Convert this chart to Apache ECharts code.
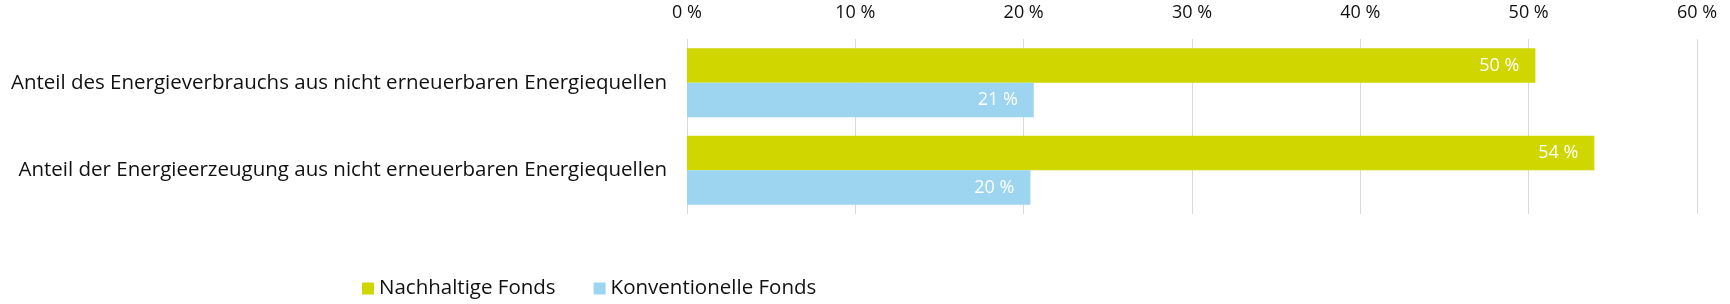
<!DOCTYPE html>
<html>
<head>
<meta charset="utf-8">
<script src="https://cdn.jsdelivr.net/npm/echarts@6/dist/echarts.min.js"></script>
<style>
html,body{margin:0;padding:0;background:#fff;}
#c{width:1730px;height:304px;}
</style>
</head>
<body>
<div id="c"></div>
<script>
var categories = [
  "Anteil des Energieverbrauchs aus nicht erneuerbaren Energiequellen",
  "Anteil der Energieerzeugung aus nicht erneuerbaren Energiequellen"
];
var seriesNames = ["Nachhaltige Fonds", "Konventionelle Fonds"];
var nachhaltige = [50.4, 53.9];
var konventionelle = [20.6, 20.4];
var xTicks = [0, 10, 20, 30, 40, 50, 60];

var FONT = "Open Sans";
var chart = echarts.init(document.getElementById('c'), null, {renderer: 'canvas'});
function pct(v){ return Math.round(v) + " %"; }
var labelCfg = {
  show: true, position: 'insideRight', distance: 16, color: '#ffffff',
  fontFamily: FONT, fontSize: 18,
  formatter: function(p){ return pct(p.value); }
};
chart.setOption({
  animation: false,
  backgroundColor: '#ffffff',
  grid: {left: 687, right: 33, top: 39, bottom: 90, containLabel: false},
  legend: {
    data: seriesNames, left: 357, top: 273, itemWidth: 12, itemHeight: 12, itemGap: 38,
    icon: 'rect',
    textStyle: {fontFamily: FONT, fontSize: 20.5, color: '#111111'}
  },
  xAxis: {
    type: 'value', position: 'top', min: xTicks[0], max: xTicks[xTicks.length-1], interval: 10,
    axisLine: {show: false}, axisTick: {show: false},
    splitLine: {show: true, lineStyle: {color: '#d9d9d9', width: 1}},
    axisLabel: {margin: 17, fontFamily: FONT, fontSize: 18, color: '#111111',
      formatter: function(v){ return v + " %"; }}
  },
  yAxis: {
    type: 'category', data: categories, inverse: true,
    axisLine: {show: false}, axisTick: {show: false},
    axisLabel: {margin: 20, fontFamily: FONT, fontSize: 20.5, color: '#111111'}
  },
  series: [
    {name: seriesNames[0], type: 'bar', data: nachhaltige, barGap: '0%', barCategoryGap: '21%',
      itemStyle: {color: '#cfd600'}, label: labelCfg},
    {name: seriesNames[1], type: 'bar', data: konventionelle, barGap: '0%', barCategoryGap: '21%',
      itemStyle: {color: '#9dd4f0'}, label: labelCfg}
  ]
});
</script>
</body>
</html>
